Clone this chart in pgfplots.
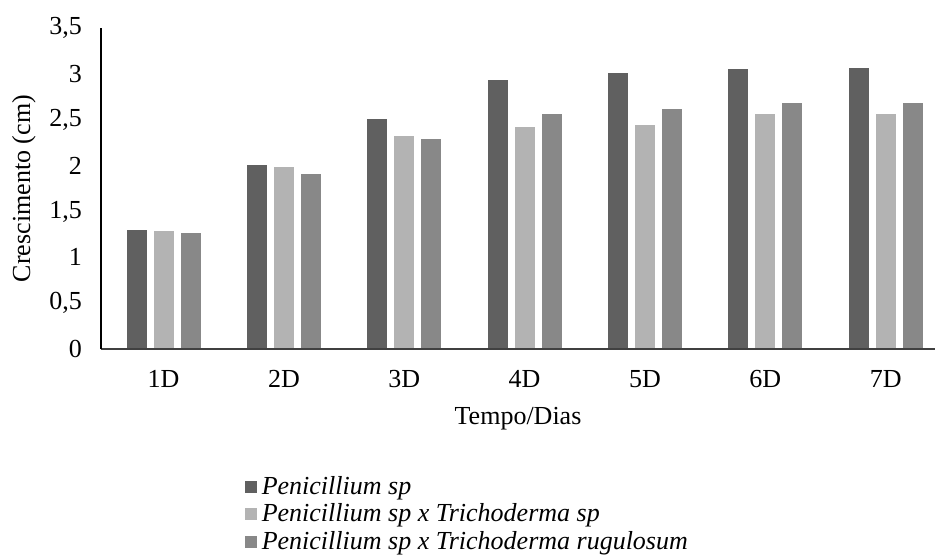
\documentclass[border=0pt]{standalone}
\usepackage{fontspec}
\setmainfont{Liberation Serif}
\usepackage{pgfplots}
\pgfplotsset{compat=1.18}

\definecolor{cdark}{HTML}{606060}
\definecolor{clight}{HTML}{B3B3B3}
\definecolor{cmed}{HTML}{888888}

\begin{document}
\begin{tikzpicture}
\begin{axis}[
    at={(0,0)}, anchor=south west,
    scale only axis,
    width=417pt, height=160.5pt,
    axis on top,
    ybar=3pt, bar width=10.5pt,
    xmin=-0.52, xmax=6.41,
    ymin=0, ymax=3.5,
    ytick={0,0.5,...,3.5},
    xtick=data,
    xticklabels={1D,2D,3D,4D,5D,6D,7D},
    major tick length=0pt,
    axis x line*=bottom, axis y line*=left,
    x axis line style={draw=black!75, line width=0.9pt},
    y axis line style={draw=black, line width=0.6pt},
    /pgf/number format/use comma,
    /pgf/number format/assume math mode=true,
    tick label style={font=\fontsize{13}{15}\selectfont},
    label style={font=\fontsize{13}{15}\selectfont},
    yticklabel style={xshift=-6pt},
    xticklabel style={yshift=-7pt},
    xlabel={Tempo/Dias},
    ylabel={Crescimento (cm)},
    xlabel style={yshift=-3pt},
    ylabel style={yshift=0pt},
    legend style={at={(0.164,-0.37)}, anchor=north west, draw=none,
        font=\fontsize{13}{15}\selectfont\itshape,
        legend cell align=left, row sep=-0.8pt,
        /tikz/every even column/.append style={column sep=0pt}},
    legend image code/.code={\fill[#1] (0pt,-3.2pt) rectangle (6.4pt,3.2pt);},
]
\addplot[fill=cdark, draw=white, line width=0.4pt] coordinates
    {(0,1.30) (1,2.01) (2,2.51) (3,2.94) (4,3.02) (5,3.06) (6,3.07)};
\addplot[fill=clight, draw=white, line width=0.4pt] coordinates
    {(0,1.29) (1,1.99) (2,2.33) (3,2.43) (4,2.45) (5,2.57) (6,2.57)};
\addplot[fill=cmed, draw=white, line width=0.4pt] coordinates
    {(0,1.27) (1,1.91) (2,2.30) (3,2.57) (4,2.62) (5,2.69) (6,2.69)};
\legend{Penicillium sp, Penicillium sp x Trichoderma sp, Penicillium sp x Trichoderma rugulosum}
\end{axis}
\pgfresetboundingbox
\path (-50.5pt,-103.5pt) rectangle (417.5pt,174.5pt);
\end{tikzpicture}
\end{document}
